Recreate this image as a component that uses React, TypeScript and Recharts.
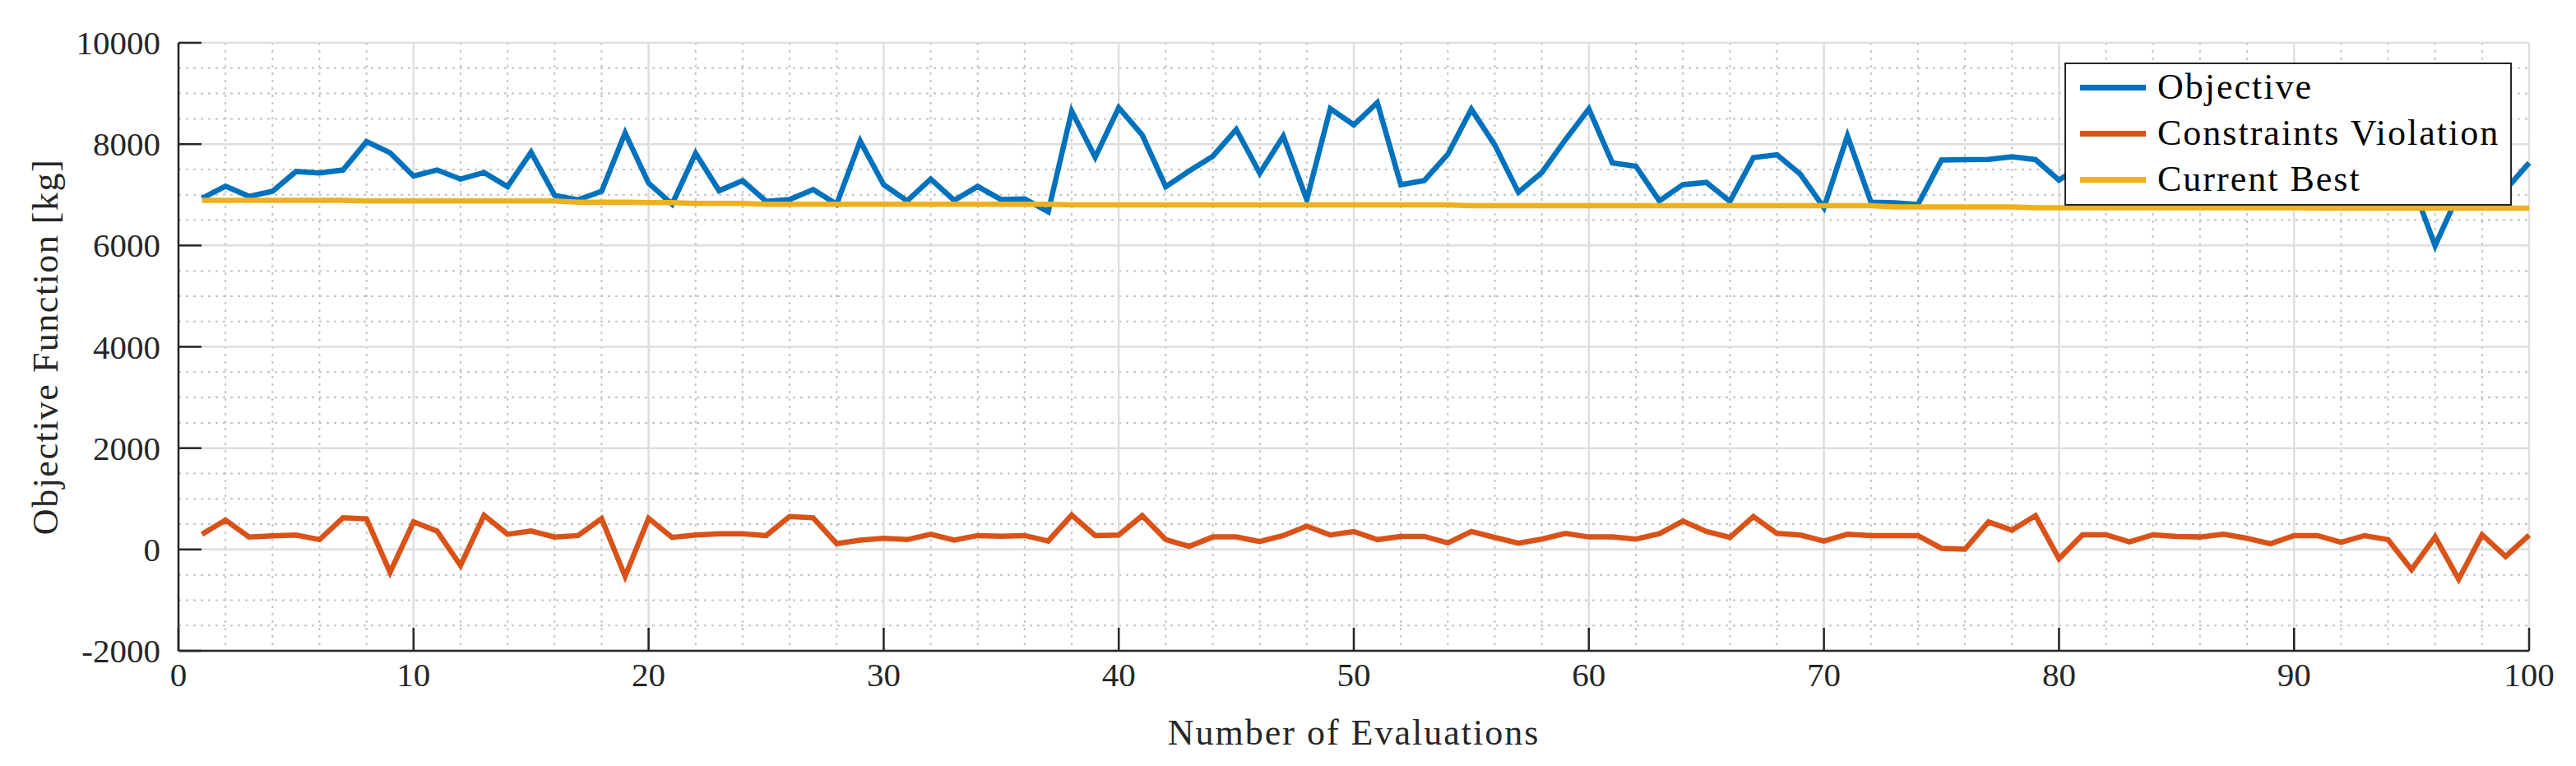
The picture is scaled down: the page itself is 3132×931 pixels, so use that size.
import { LineChart, Line, XAxis, YAxis, CartesianGrid, Legend } from "recharts"

const objective = [
  6930, 7170, 6970, 7070, 7460, 7430, 7490, 8050, 7830, 7370,
  7490, 7310, 7440, 7160, 7840, 6990, 6900, 7070, 8220, 7230,
  6815, 7820, 7080, 7280, 6870, 6905, 7105, 6815, 8060, 7200,
  6880, 7310, 6890, 7165, 6905, 6920, 6665, 8650, 7740, 8720,
  8180, 7160, 7470, 7760, 8290, 7425, 8155, 6905, 8700, 8380,
  8820, 7200, 7280, 7800, 8690, 7980, 7050, 7440, 8085, 8695,
  7630, 7565, 6880, 7200, 7245, 6870, 7735, 7790, 7405, 6745,
  8165, 6855, 6840, 6810, 7685, 7695, 7700, 7750, 7695, 7290,
  7600, 7250, 7900, 7450, 7150, 8000, 7350, 7700, 7100, 7550,
  7900, 7300, 7050, 7500, 7250, 5995, 7020, 6950, 7100, 7630,
]

const violation = [
  300, 580, 245, 270, 285, 195, 625, 605, -450, 545,
  365, -315, 675, 300, 365, 245, 275, 610, -530, 615,
  237, 285, 310, 310, 275, 650, 625, 115, 185, 220,
  195, 300, 185, 275, 263, 275, 167, 677, 275, 285,
  667, 195, 60, 247, 247, 156, 275, 460, 285, 355,
  195, 258, 258, 130, 355, 237, 124, 204, 317, 247,
  247, 204, 312, 560, 355, 237, 650, 317, 285, 167,
  300, 275, 275, 275, 22, 5, 543, 382, 667, -183,
  290, 290, 151, 290, 258, 247, 300, 220, 113, 274,
  274, 140, 274, 194, -398, 247, -586, 290, -140, 285,
]

const currentBest = [
  6890, 6890, 6890, 6890, 6890, 6890, 6890, 6880, 6880, 6880,
  6880, 6880, 6880, 6880, 6880, 6880, 6855, 6855, 6855, 6845,
  6845, 6828, 6828, 6828, 6815, 6815, 6815, 6815, 6815, 6815,
  6815, 6815, 6815, 6815, 6815, 6815, 6815, 6803, 6803, 6803,
  6803, 6803, 6803, 6803, 6803, 6803, 6803, 6803, 6803, 6803,
  6803, 6803, 6803, 6803, 6783, 6783, 6783, 6783, 6783, 6783,
  6783, 6783, 6783, 6783, 6783, 6783, 6783, 6783, 6783, 6783,
  6783, 6783, 6762, 6762, 6762, 6762, 6762, 6762, 6745, 6745,
  6745, 6745, 6745, 6745, 6745, 6745, 6745, 6745, 6745, 6745,
  6735, 6735, 6735, 6735, 6735, 6735, 6735, 6735, 6735, 6735,
]

const seriesNames = ["Objective", "Constraints Violation", "Current Best"]

const xTicks = [0, 10, 20, 30, 40, 50, 60, 70, 80, 90, 100]
const yTicks = [-2000, 0, 2000, 4000, 6000, 8000, 10000]
const xMinorTicks = [
  2, 4, 6, 8, 12, 14, 16, 18, 22, 24, 26, 28, 32, 34, 36, 38, 42, 44, 46, 48,
  52, 54, 56, 58, 62, 64, 66, 68, 72, 74, 76, 78, 82, 84, 86, 88, 92, 94, 96, 98,
]
const yMinorTicks = [
  -1500, -1000, -500, 500, 1000, 1500, 2500, 3000, 3500, 4500, 5000, 5500,
  6500, 7000, 7500, 8500, 9000, 9500,
]

const data = objective.map((v, i) => ({
  evaluation: i + 1,
  objective: v,
  violation: violation[i],
  best: currentBest[i],
}))

const FONT = "'Liberation Serif', 'Times New Roman', serif"
const AXIS_COLOR = "#262626"
const TICK_LEN = 28
const Y_TICK_MARGIN = 22
const X_TICK_MARGIN = 14

const YTick = (props: any) => {
  const { x, y, payload } = props
  const axisX = x + Y_TICK_MARGIN
  return (
    <g>
      <line x1={axisX} x2={axisX + TICK_LEN} y1={y} y2={y} stroke={AXIS_COLOR} strokeWidth={2.5} />
      <text x={x} y={y} textAnchor="end" dominantBaseline="central" fontFamily={FONT} fontSize={41} fill={AXIS_COLOR}>
        {payload.value}
      </text>
    </g>
  )
}

const XTick = (props: any) => {
  const { x, y, payload } = props
  const axisY = y - X_TICK_MARGIN
  return (
    <g>
      <line x1={x} x2={x} y1={axisY} y2={axisY - TICK_LEN} stroke={AXIS_COLOR} strokeWidth={2.5} />
      <text x={x} y={y} dy="0.71em" textAnchor="middle" fontFamily={FONT} fontSize={41} fill={AXIS_COLOR}>
        {payload.value}
      </text>
    </g>
  )
}

const XLabel = ({ viewBox }: any) => (
  <text
    x={viewBox.x + viewBox.width / 2}
    y={viewBox.y + 99}
    textAnchor="middle"
    dominantBaseline="central"
    fontFamily={FONT}
    fontSize={44}
    letterSpacing={2}
    fill={AXIS_COLOR}
  >
    Number of Evaluations
  </text>
)

const YLabel = ({ viewBox }: any) => {
  const cx = viewBox.x - 2
  const cy = viewBox.y + viewBox.height / 2
  return (
    <text
      x={cx}
      y={cy}
      transform={`rotate(-90, ${cx}, ${cy})`}
      textAnchor="middle"
      dominantBaseline="central"
      fontFamily={FONT}
      fontSize={44}
      letterSpacing={1.5}
      fill={AXIS_COLOR}
    >
      Objective Function [kg]
    </text>
  )
}

// keep the legend in plotting order (recharts sorts it by name otherwise)
const renderLegend = (props: any) => {
  const items = [...props.payload].sort(
    (a: any, b: any) => seriesNames.indexOf(a.value) - seriesNames.indexOf(b.value)
  )
  return (
    <div
      style={{
        width: 544,
        height: 174,
        boxSizing: "border-box",
        border: `2.5px solid ${AXIS_COLOR}`,
        background: "#fff",
        fontFamily: FONT,
        fontSize: 44,
        letterSpacing: 2,
        color: "#000",
      }}
    >
      {items.map((entry: any) => (
        <div key={entry.value} style={{ display: "flex", alignItems: "center", height: 56 }}>
          <span style={{ display: "inline-block", width: 80, height: 7, marginLeft: 17, marginRight: 14, background: entry.color }} />
          <span style={{ lineHeight: "56px" }}>{entry.value}</span>
        </div>
      ))}
    </div>
  )
}

export default function App() {
  return (
    <div style={{ position: "absolute", left: 0, top: 0, width: 3132, height: 931, background: "#fff" }}>
      <LineChart width={3132} height={931} data={data} margin={{ top: 52, right: 57, left: 57, bottom: 40 }}>
        <CartesianGrid
          horizontalValues={yMinorTicks}
          verticalValues={xMinorTicks}
          stroke="#c4c4c4"
          strokeWidth={2}
          strokeDasharray="3 6"
        />
        <CartesianGrid horizontalValues={yTicks} verticalValues={xTicks} stroke="#dedede" strokeWidth={2.5} />
        <XAxis
          dataKey="evaluation"
          type="number"
          domain={[0, 100]}
          ticks={xTicks}
          interval={0}
          height={100}
          tickSize={0}
          tickMargin={X_TICK_MARGIN}
          tickLine={false}
          tick={<XTick />}
          axisLine={{ stroke: AXIS_COLOR, strokeWidth: 2.5 }}
          label={{ content: XLabel }}
        />
        <YAxis
          type="number"
          domain={[-2000, 10000]}
          ticks={yTicks}
          interval={0}
          width={160}
          tickSize={0}
          tickMargin={Y_TICK_MARGIN}
          tickLine={false}
          tick={<YTick />}
          axisLine={{ stroke: AXIS_COLOR, strokeWidth: 2.5 }}
          label={{ content: YLabel }}
        />
        <Legend
          layout="vertical"
          align="center"
          verticalAlign="middle"
          content={renderLegend}
          wrapperStyle={{ left: 2510, top: 76, width: 544, height: 174 }}
        />
        <Line type="linear" dataKey="objective" name={seriesNames[0]} stroke="#0072BD" strokeWidth={6.5} dot={false} isAnimationActive={false} />
        <Line type="linear" dataKey="violation" name={seriesNames[1]} stroke="#D95319" strokeWidth={6.5} dot={false} isAnimationActive={false} />
        <Line type="linear" dataKey="best" name={seriesNames[2]} stroke="#EDB120" strokeWidth={6.5} dot={false} isAnimationActive={false} />
      </LineChart>
    </div>
  )
}
